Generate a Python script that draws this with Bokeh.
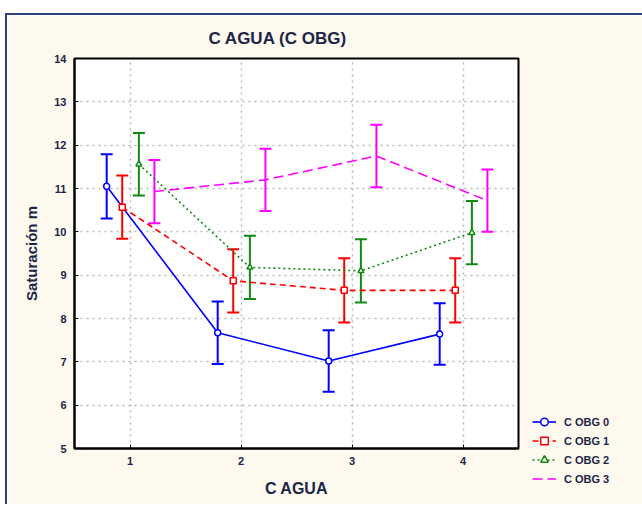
from bokeh.plotting import figure
from bokeh.models import (ColumnDataSource, Whisker, TeeHead, FixedTicker,
                          Legend, LegendItem, Range1d)
from bokeh.embed import file_html
from bokeh.resources import INLINE

# ---- data ----
x_levels = [1, 2, 3, 4]
x_labels = ["1", "2", "3", "4"]
series_names = ["C OBG 0", "C OBG 1", "C OBG 2", "C OBG 3"]
means_0 = [11.05, 7.67, 7.02, 7.64]
err_0 = [0.74, 0.72, 0.71, 0.71]
means_1 = [10.57, 8.87, 8.65, 8.65]
err_1 = [0.73, 0.73, 0.74, 0.74]
means_2 = [11.56, 9.18, 9.10, 9.98]
err_2 = [0.72, 0.73, 0.73, 0.73]
means_3 = [10.93, 11.20, 11.75, 10.72]
err_3 = [0.73, 0.72, 0.72, 0.72]
y_ticks = [5, 6, 7, 8, 9, 10, 11, 12, 13, 14]

all_means = [means_0, means_1, means_2, means_3]
all_errs = [err_0, err_1, err_2, err_3]
offsets = [-0.21, -0.07, 0.08, 0.22]
colors = ["#0000ff", "#ff0000", "#108a10", "#ff00ff"]
dashes = ["solid", "6 4", "2 3", "10 5"]
markers = ["circle", "square", "triangle", None]

CREAM = "#fdf9ef"
TXT = "#1c2546"
FONT = "Liberation Sans"

p = figure(frame_width=444, frame_height=390, output_backend="svg", toolbar_location=None,
           x_range=Range1d(0.5, 4.5), y_range=Range1d(5, 14),
           min_border_left=67, min_border_top=43, min_border_right=113, min_border_bottom=56,
           background_fill_color="white", border_fill_color=CREAM)
p.styles = {"margin-top": "13px", "margin-left": "5px",
            "border-top": "2px solid #2b4282", "border-left": "2px solid #2b4282"}

p.title.text = "C AGUA (C OBG)"
p.title.align = "left"
p.title.offset = 134
p.title.standoff = 21
p.title.text_font = FONT
p.title.text_font_size = "17px"
p.title.text_font_style = "bold"
p.title.text_color = TXT

p.outline_line_color = "black"
p.outline_line_width = 2

for ax in (p.xaxis[0], p.yaxis[0]):
    ax.axis_line_color = "black"
    ax.axis_line_width = 2
    ax.major_tick_in = 4
    ax.major_tick_out = 0
    ax.minor_tick_line_color = None
    ax.major_label_text_font = FONT
    ax.major_label_text_font_size = "11px"
    ax.major_label_text_font_style = "bold"
    ax.major_label_text_color = TXT
    ax.axis_label_text_font = FONT
    ax.axis_label_text_font_style = "bold"
    ax.axis_label_text_color = TXT

p.xaxis[0].ticker = FixedTicker(ticks=x_levels)
p.xaxis[0].major_label_overrides = {x: l for x, l in zip(x_levels, x_labels)}
p.yaxis[0].ticker = FixedTicker(ticks=y_ticks)
p.xaxis[0].axis_label = "C AGUA"
p.yaxis[0].axis_label = "Saturación m"
p.xaxis[0].axis_label_text_font_size = "16px"
p.yaxis[0].axis_label_text_font_size = "15px"
p.xaxis[0].major_label_standoff = 8
p.yaxis[0].major_label_standoff = 8
p.xaxis[0].axis_label_standoff = 12
p.yaxis[0].axis_label_standoff = 11

p.xgrid.ticker = FixedTicker(ticks=x_levels)
p.ygrid.ticker = FixedTicker(ticks=y_ticks)
for g in (p.xgrid[0], p.ygrid[0]):
    g.grid_line_color = "#b8b8b8"
    g.grid_line_dash = "2 4"
    g.grid_line_width = 1.5

items = []
for name, m, e, off, c, d, mk in zip(series_names, all_means, all_errs, offsets, colors, dashes, markers):
    xs = [x + off for x in x_levels]
    src = ColumnDataSource(dict(x=xs, y=m, upper=[a + b for a, b in zip(m, e)],
                                lower=[a - b for a, b in zip(m, e)]))
    w = Whisker(source=src, base="x", upper="upper", lower="lower",
                line_color=c, line_width=2,
                upper_head=TeeHead(size=12, line_color=c, line_width=2),
                lower_head=TeeHead(size=12, line_color=c, line_width=2))
    p.add_layout(w)
    lr = p.line("x", "y", source=src, line_color=c, line_width=1.6, line_dash=d)
    rends = [lr]
    if mk is not None:
        sr = p.scatter("x", "y", source=src, marker=mk, size=6, line_color=c,
                       line_width=1.5, fill_color="white")
        rends.append(sr)
    items.append(LegendItem(label=name, renderers=rends))

legend = Legend(items=items, location=(14, -40), orientation="vertical",
                background_fill_alpha=0, border_line_color=None,
                label_text_font=FONT, label_text_font_size="11px",
                label_text_font_style="bold", label_text_color=TXT,
                glyph_width=24, glyph_height=19, label_height=19, spacing=0,
                padding=0, margin=0, label_standoff=8)
p.add_layout(legend, "right")

open("out.html", "w").write(file_html(p, INLINE))
